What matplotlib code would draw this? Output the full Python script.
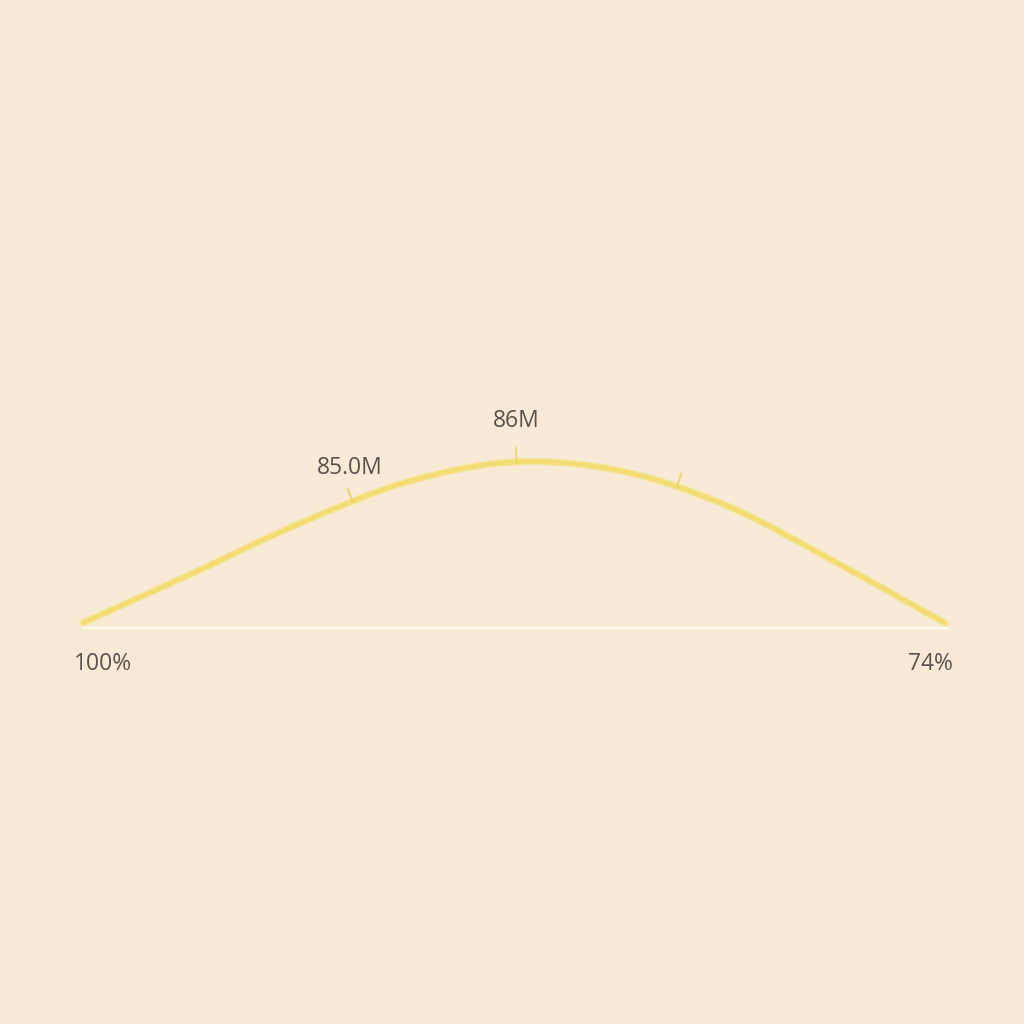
import numpy as np
import matplotlib
matplotlib.use("Agg")
import matplotlib.pyplot as plt
from matplotlib.path import Path
from matplotlib.patches import PathPatch

# curve: position along the funnel (0-100) and value in millions
progress = [0, 12.5, 25, 37.5, 50, 62.5, 75, 87.5, 100]
values_m = [81.77, 83.05, 84.37, 85.47, 86.0, 85.76, 84.82, 83.34, 81.76]
baseline_m = 81.64

# marked points on the curve
tick_pos = [31.3, 50.3, 68.9]
tick_val = [84.95, 86.0, 85.35]
tick_text = ["85.0M", "86M", ""]

end_labels = ["100%", "74%"]

bg = "#f8ead6"
line_col = "#f2dd74"
txt_col = "#5a534c"

fig = plt.figure(figsize=(10.24, 10.24), dpi=100)
fig.patch.set_facecolor(bg)
ax = fig.add_axes([0, 0, 1, 1])
ax.set_facecolor(bg)
ax.set_xlim(-9.63, 109.16)
ax.set_ylim(71.21, 98.16)
ax.axis("off")


def smooth_path(xs, ys):
    # catmull-rom through the points, drawn as cubic beziers
    pts = np.column_stack([xs, ys])
    verts = [pts[0]]
    codes = [Path.MOVETO]
    n = len(pts)
    for i in range(n - 1):
        p0 = pts[max(i - 1, 0)]
        p1 = pts[i]
        p2 = pts[i + 1]
        p3 = pts[min(i + 2, n - 1)]
        c1 = p1 + (p2 - p0) / 6
        c2 = p2 - (p3 - p1) / 6
        verts += [c1, c2, p2]
        codes += [Path.CURVE4] * 3
    return Path(verts, codes)


# white baseline
ax.plot([progress[0], 100.4], [baseline_m, baseline_m], color="#fffaf0", lw=1.6,
        solid_capstyle="butt", zorder=1)

# soft glow + main line
ax.add_patch(PathPatch(smooth_path(progress, values_m), fill=False, edgecolor="#f6e5a0",
                       lw=5.2, capstyle="round", zorder=2))
ax.add_patch(PathPatch(smooth_path(progress, values_m), fill=False, edgecolor=line_col,
                       lw=3.4, capstyle="round", zorder=3))

# small ticks sticking out of the curve, perpendicular to it
for tp, tv, lab in zip(tick_pos, tick_val, tick_text):
    p = ax.transData.transform((tp, tv))
    a = ax.transData.transform((tp - 3, np.interp(tp - 3, progress, values_m)))
    b = ax.transData.transform((tp + 3, np.interp(tp + 3, progress, values_m)))
    d = (b - a) / np.hypot(*(b - a))
    nrm = np.array([-d[1], d[0]])
    if nrm[1] < 0:
        nrm = -nrm
    q = p + nrm * 14
    ax.plot([p[0], q[0]], [p[1], q[1]], transform=None, color="#ead063", lw=1.2, zorder=4)
    if lab:
        ax.annotate(lab, (tp, tv), xytext=(-3 if tp < 40 else 0, 34 if tp < 40 else 41),
                    textcoords="offset pixels", ha="center", va="center",
                    fontsize=16.5, family="Open Sans", color=txt_col)

# end labels under the baseline
ax.annotate(end_labels[0], (progress[0], baseline_m), xytext=(20, -36),
            textcoords="offset pixels", ha="center", va="center",
            fontsize=16.5, family="Open Sans", color=txt_col)
ax.annotate(end_labels[1], (progress[-1], baseline_m), xytext=(-15, -36),
            textcoords="offset pixels", ha="center", va="center",
            fontsize=16.5, family="Open Sans", color=txt_col)

fig.savefig("out.png", dpi=100, facecolor=bg)
